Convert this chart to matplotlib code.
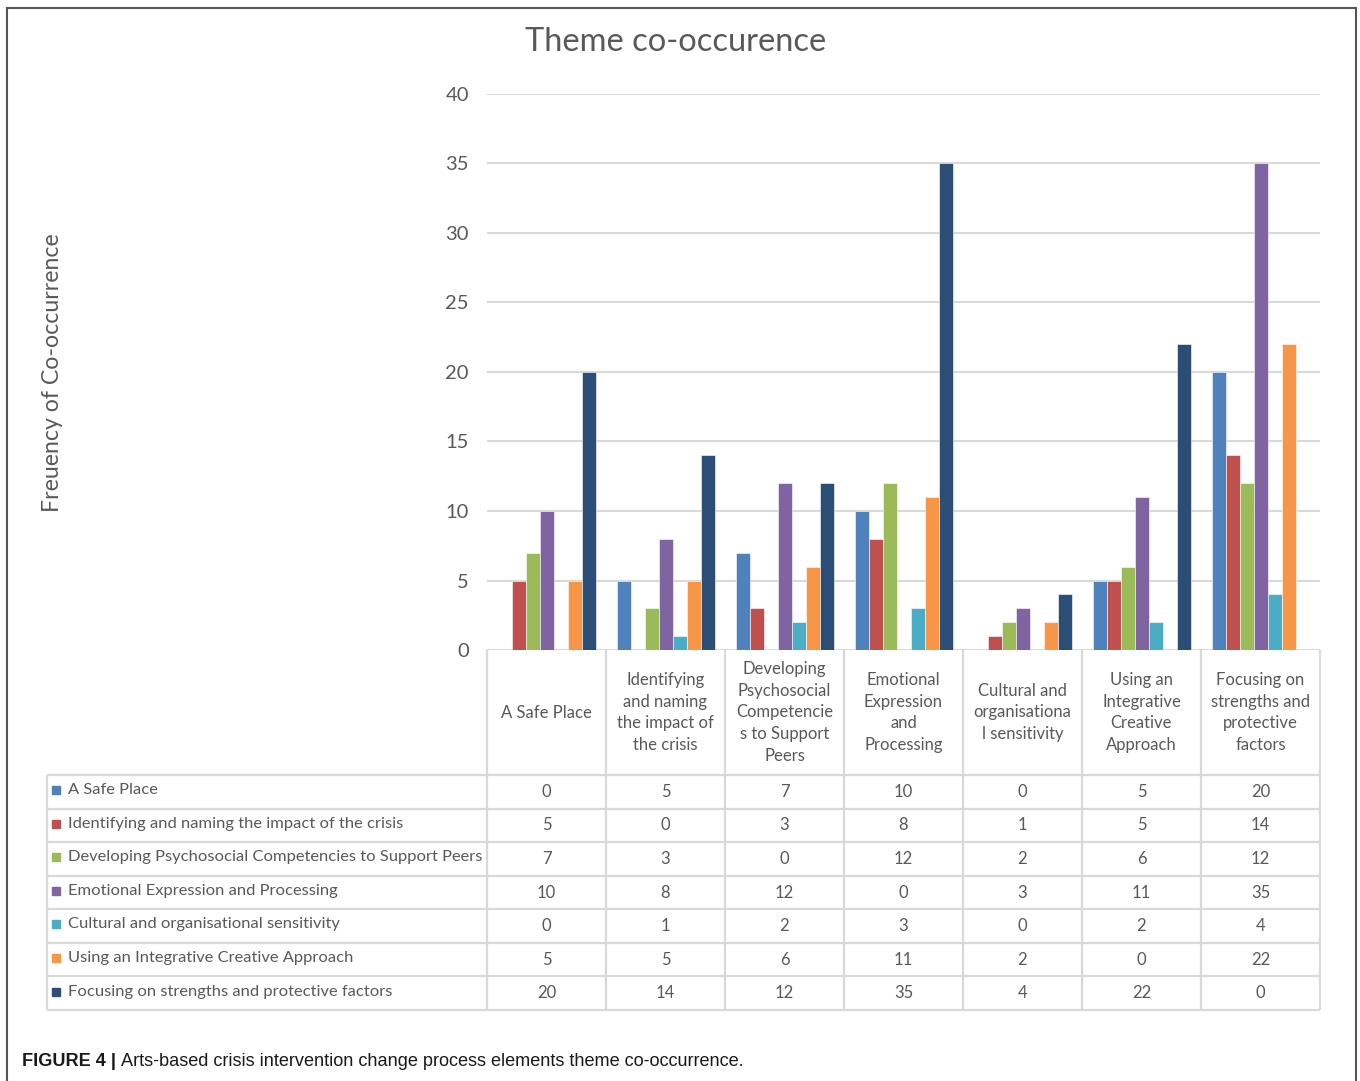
import numpy as np
import matplotlib.pyplot as plt
from matplotlib.patches import Rectangle

# data
categories = [
    "A Safe Place",
    "Identifying\nand naming\nthe impact of\nthe crisis",
    "Developing\nPsychosocial\nCompetencie\ns to Support\nPeers",
    "Emotional\nExpression\nand\nProcessing",
    "Cultural and\norganisationa\nl sensitivity",
    "Using an\nIntegrative\nCreative\nApproach",
    "Focusing on\nstrengths and\nprotective\nfactors",
]
series_names = [
    "A Safe Place",
    "Identifying and naming the impact of the crisis",
    "Developing Psychosocial Competencies to Support Peers",
    "Emotional Expression and Processing",
    "Cultural and organisational sensitivity",
    "Using an Integrative Creative Approach",
    "Focusing on strengths and protective factors",
]
safe_place = [0, 5, 7, 10, 0, 5, 20]
identifying = [5, 0, 3, 8, 1, 5, 14]
developing = [7, 3, 0, 12, 2, 6, 12]
emotional = [10, 8, 12, 0, 3, 11, 35]
cultural = [0, 1, 2, 3, 0, 2, 4]
integrative = [5, 5, 6, 11, 2, 0, 22]
focusing = [20, 14, 12, 35, 4, 22, 0]
series_values = [safe_place, identifying, developing, emotional, cultural, integrative, focusing]
yticks = [0, 5, 10, 15, 20, 25, 30, 35, 40]

colors = ["#4F81BD", "#C0504D", "#9BBB59", "#8064A2", "#4BACC6", "#F79646", "#2C4D75"]
text_gray = "#595959"
grid_gray = "#D9D9D9"
FONT = "Lato"

W, H = 1360, 1081
fig = plt.figure(figsize=(W / 100, H / 100), dpi=100)


def fx(px):
    return px / W


def fy(py):
    return 1 - py / H


# outer frame
fig.patches.append(Rectangle((fx(7), -0.01), fx(1356) - fx(7), fy(8) + 0.01,
                             transform=fig.transFigure, fill=False,
                             edgecolor="#555555", linewidth=1.5))

# chart axes
ax = fig.add_axes([fx(487), fy(650), (1320 - 487) / W, (650 - 94) / H])
n = len(categories)
x = np.arange(n)
bw = 14 / 119
for i, (vals, c) in enumerate(zip(series_values, colors)):
    ax.bar(x + (i - 3) * bw, vals, width=bw, color=c, edgecolor="white",
           linewidth=0.4, zorder=3)
ax.set_xlim(-0.5, n - 0.5)
ax.set_ylim(0, 40)
ax.set_yticks(yticks)
ax.set_yticklabels([str(t) for t in yticks], fontsize=14.5, color=text_gray, family=FONT)
ax.set_xticks([])
ax.tick_params(axis="y", length=0, pad=13)
ax.grid(axis="y", color=grid_gray, linewidth=1.5, zorder=0)
for s in ax.spines.values():
    s.set_visible(False)

fig.text(fx(676), fy(42), "Theme co-occurence", ha="center", va="center",
         fontsize=23.5, color=text_gray, family=FONT)
fig.text(fx(53), fy(373), "Freuency of Co-occurrence", ha="center", va="center",
         rotation=90, fontsize=16.7, color=text_gray, family=FONT)

# data table
left_w = (487 - 47) / 119
header_h = 125 / (235 / 7)
tax = fig.add_axes([fx(47), fy(1010), (1320 - 47) / W, (1010 - 650) / H])
tax.set_xlim(-0.5 - left_w, n - 0.5)
tax.set_ylim(header_h + n, 0)
tax.axis("off")

lkw = dict(color=grid_gray, linewidth=1.6, clip_on=False, solid_capstyle="butt")
for k in range(n + 1):
    tax.plot([-0.5 + k, -0.5 + k], [0, header_h + n], **lkw)
tax.plot([-0.5 - left_w, -0.5 - left_w], [header_h, header_h + n], **lkw)
for r in range(n + 1):
    tax.plot([-0.5 - left_w, n - 0.5], [header_h + r, header_h + r], **lkw)

for j, cat in enumerate(categories):
    tax.text(j, header_h / 2, cat, ha="center", va="center", fontsize=12,
             color=text_gray, family=FONT, linespacing=1.45)

for r, (name, vals, c) in enumerate(zip(series_names, series_values, colors)):
    yc = header_h + r + 0.5
    tax.plot(-0.5 - left_w + 9 / 119, yc - 0.05, marker="s", markersize=6,
             color=c, linestyle="none", clip_on=False)
    tax.text(-0.5 - left_w + 21 / 119, yc - 0.05, name, ha="left", va="center",
             fontsize=11.85, color=text_gray, family=FONT)
    for j, v in enumerate(vals):
        tax.text(j, yc, str(v), ha="center", va="center", fontsize=12,
                 color=text_gray, family=FONT)

# caption
cap1 = fig.text(fx(22), fy(1061), "FIGURE 4 | ", ha="left", va="center",
                fontsize=13.1, fontweight="bold", color="#1a1a1a",
                family="Liberation Sans")
fig.canvas.draw()
bb = cap1.get_window_extent()
fig.text(bb.x1 / W, fy(1061), "Arts-based crisis intervention change process elements theme co-occurrence.",
         ha="left", va="center", fontsize=13.1, color="#1a1a1a", family="Liberation Sans")

fig.savefig("out.png", dpi=100, facecolor="white")
